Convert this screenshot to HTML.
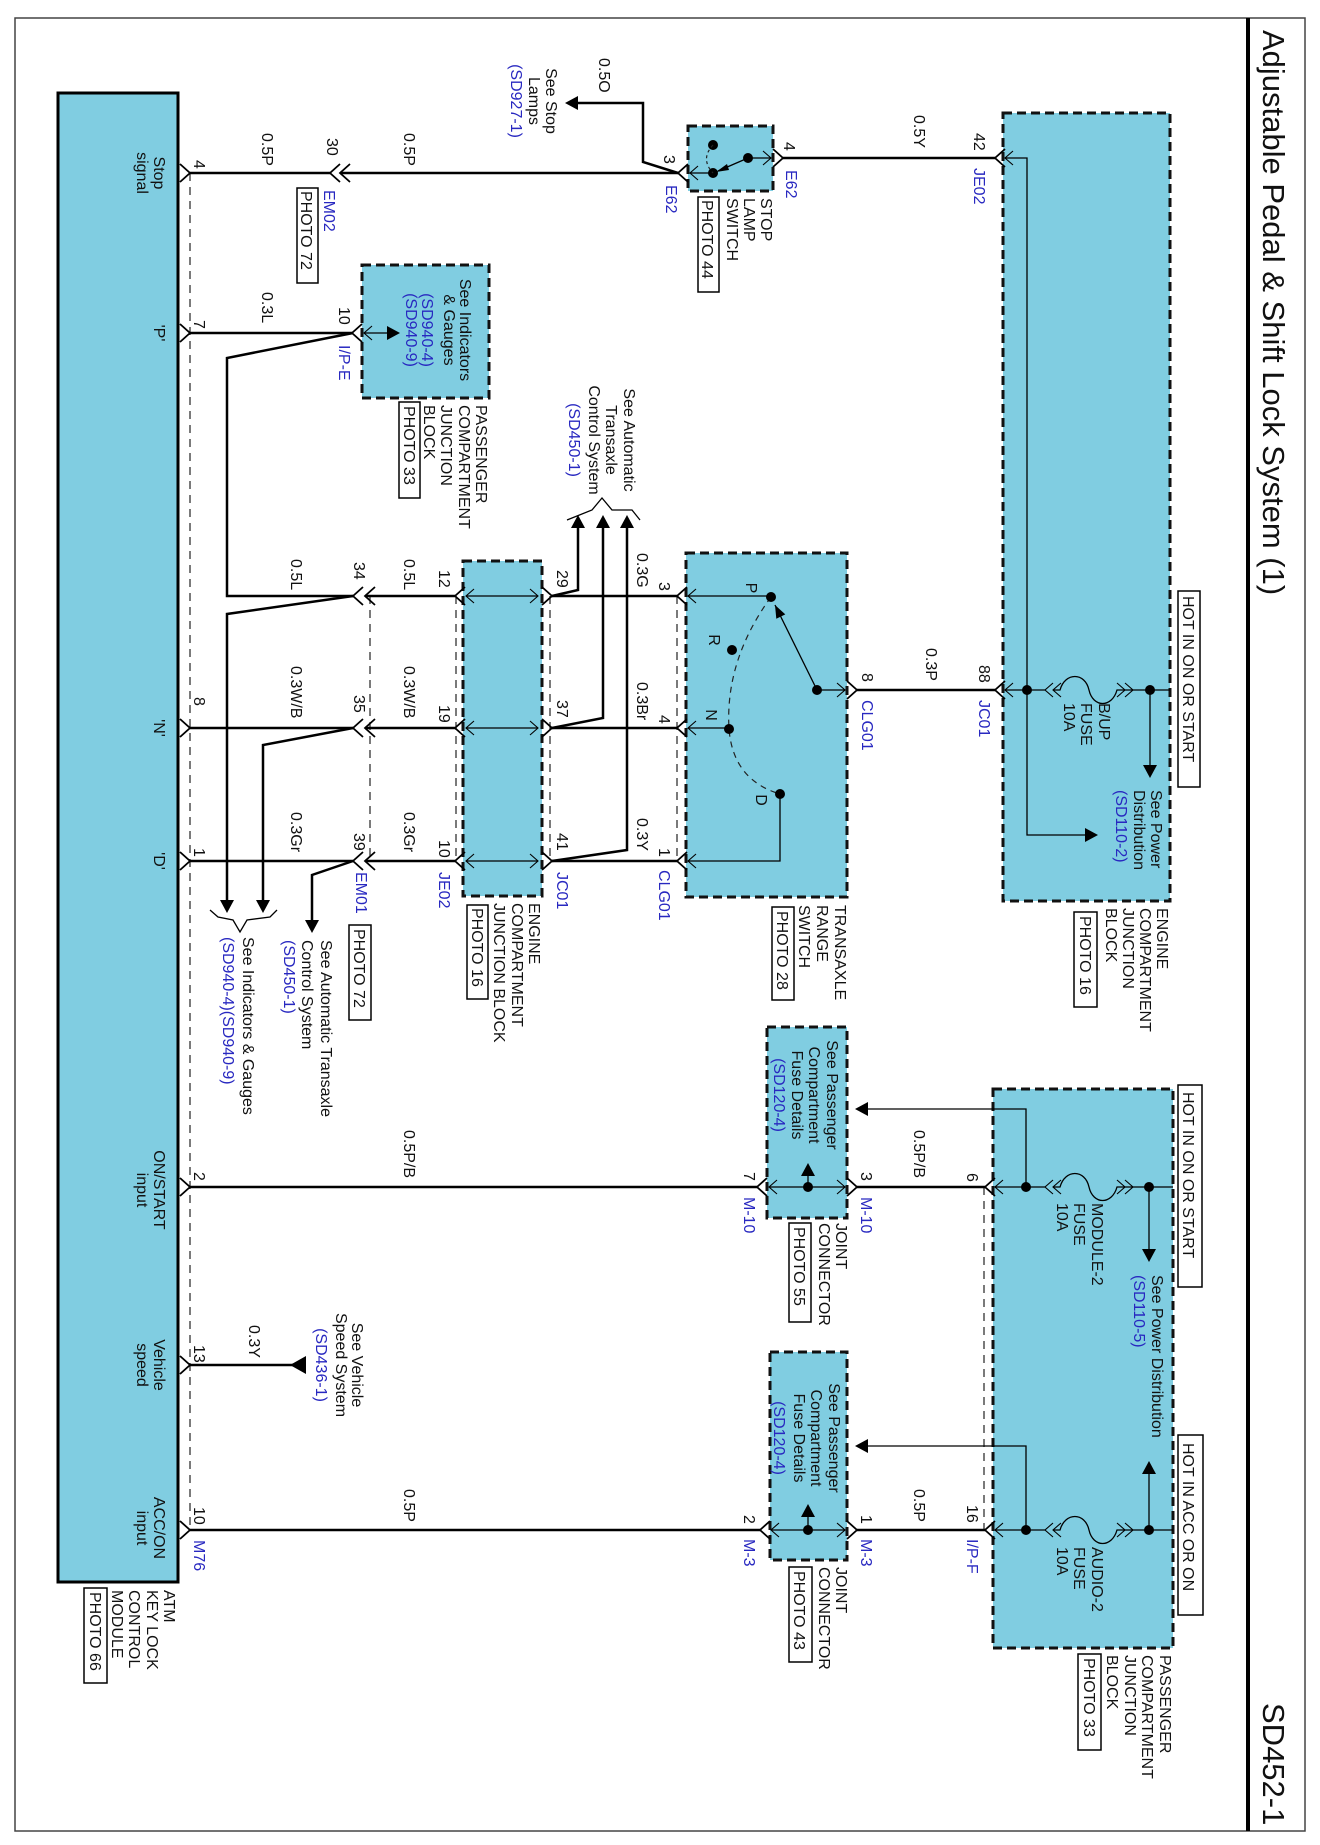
<!DOCTYPE html>
<html><head><meta charset="utf-8"><style>
html,body{margin:0;padding:0;background:#fff;}
svg{display:block;}
.t{font-family:"Liberation Sans",Arial,sans-serif;font-size:16px;fill:#111;}
.b{fill:#2828c0;}
.m{text-anchor:middle;}
.w{stroke:#000;stroke-width:2.5;fill:none;}
.i{stroke:#000;stroke-width:1.3;fill:none;}
.bx{fill:#80cde1;stroke:#111;stroke-width:3;stroke-dasharray:9 5;}
.d{stroke:#222;stroke-width:1.2;stroke-dasharray:8 6;fill:none;}
.pb{fill:#fff;stroke:#000;stroke-width:1.5;}
</style></head><body>
<svg width="1320" height="1845" viewBox="0 0 1320 1845" xmlns="http://www.w3.org/2000/svg">
<defs>
<polyline id="cl" points="10,-9 0,0 10,9" fill="none" stroke="#000" stroke-width="1.8"/>
<polyline id="cr" points="-10,-9 0,0 -10,9" fill="none" stroke="#000" stroke-width="1.8"/>
<polyline id="cls" points="8,-7 0,0 8,7" fill="none" stroke="#000" stroke-width="1.1"/>
<polyline id="crs" points="-8,-7 0,0 -8,7" fill="none" stroke="#000" stroke-width="1.1"/>
<polygon id="al" points="0,0 13,-7 13,7" fill="#000"/>
<polygon id="ar" points="0,0 -13,-7 -13,7" fill="#000"/>
<polygon id="au" points="0,0 -7,13 7,13" fill="#000"/>
<polygon id="ad" points="0,0 -7,-13 7,-13" fill="#000"/>
<circle id="dt" r="5" fill="#000"/>
</defs>
<rect x="0" y="0" width="1320" height="1845" fill="#fff"/>
<!-- frame -->
<rect x="15" y="18" width="1290" height="1813" fill="none" stroke="#444" stroke-width="1.5"/>
<line x1="1248" y1="18" x2="1248" y2="1831" stroke="#000" stroke-width="4"/>

<!-- boxes -->
<rect x="58" y="93" width="120" height="1489" fill="#80cde1" stroke="#000" stroke-width="3"/>
<rect class="bx" x="688" y="126" width="85" height="65"/>
<rect class="bx" x="362" y="265" width="127" height="133"/>
<rect class="bx" x="463" y="561" width="79" height="335"/>
<rect class="bx" x="686" y="553" width="161" height="344"/>
<rect class="bx" x="1003" y="113" width="167" height="788"/>
<rect class="bx" x="993" y="1089" width="180" height="559"/>
<rect class="bx" x="767" y="1027" width="80" height="191"/>
<rect class="bx" x="770" y="1352" width="77" height="208"/>

<!-- dashed connector lines -->
<line class="d" x1="190" y1="173" x2="190" y2="1530"/>
<line class="d" x1="370" y1="596" x2="370" y2="861"/>
<line class="d" x1="456" y1="596" x2="456" y2="861"/>
<line class="d" x1="550" y1="596" x2="550" y2="861"/>
<line class="d" x1="677" y1="596" x2="677" y2="861"/>
<line class="d" x1="984" y1="1187" x2="984" y2="1530"/>

<!-- ATM pins -->
<use href="#cr" x="190" y="173"/><use href="#cr" x="190" y="333"/><use href="#cr" x="190" y="728"/>
<use href="#cr" x="190" y="861"/><use href="#cr" x="190" y="1187"/><use href="#cr" x="190" y="1365"/><use href="#cr" x="190" y="1530"/>

<!-- stop row -->
<polyline class="w" points="190,173 330,173"/>
<use href="#cl" x="330" y="173"/><use href="#cl" x="340" y="173"/>
<polyline class="w" points="340,173 678,173"/>
<polyline class="w" points="678,173 643,162 643,103 576,103"/>
<use href="#al" x="565" y="103"/>
<use href="#cl" x="678" y="173"/><use href="#cls" x="690" y="173"/>
<line class="i" x1="690" y1="173" x2="713" y2="173"/>
<use href="#dt" x="713" y="173"/><use href="#dt" x="713" y="145"/><use href="#dt" x="748" y="158"/>
<path d="M713,145 Q700,159 713,173" class="d" style="stroke-dasharray:3 3"/>
<line class="i" x1="748" y1="158" x2="718" y2="171"/>
<polygon points="716,172 727,164 729,170" fill="#000"/>
<line class="i" x1="748" y1="158" x2="771" y2="158"/>
<use href="#crs" x="771" y="158"/><use href="#cr" x="783" y="158"/>
<polyline class="w" points="783,158 995,158"/>
<use href="#cl" x="995" y="158"/><use href="#cls" x="1005" y="158"/>
<polyline class="i" points="1005,158 1027,158 1027,835 1086,835"/>
<use href="#ar" x="1098" y="835"/>

<!-- P row -->
<polyline class="w" points="190,333 352,333"/>
<use href="#cl" x="352" y="333"/><use href="#cls" x="364" y="333"/>
<line class="i" x1="364" y1="333" x2="390" y2="333"/>
<use href="#ar" x="400" y="333"/>
<polyline class="w" points="353,333 227,358 227,596 353,596"/>
<polyline class="w" points="353,596 227,614 227,902"/>
<use href="#ad" x="227" y="913"/>

<!-- rows 596 / 728 / 861 -->
<g>
<use href="#cl" x="353" y="596"/><use href="#cl" x="365" y="596"/>
<use href="#cl" x="353" y="728"/><use href="#cl" x="365" y="728"/>
<use href="#cl" x="353" y="861"/><use href="#cl" x="365" y="861"/>
<polyline class="w" points="190,728 353,728"/>
<polyline class="w" points="190,861 353,861"/>
<polyline class="w" points="365,596 455,596"/>
<polyline class="w" points="365,728 455,728"/>
<polyline class="w" points="365,861 455,861"/>
<use href="#cl" x="455" y="596"/><use href="#cls" x="466" y="596"/><line class="i" x1="466" y1="596" x2="538" y2="596"/><use href="#crs" x="538" y="596"/><use href="#cr" x="552" y="596"/>
<use href="#cl" x="455" y="728"/><use href="#cls" x="466" y="728"/><line class="i" x1="466" y1="728" x2="538" y2="728"/><use href="#crs" x="538" y="728"/><use href="#cr" x="552" y="728"/>
<use href="#cl" x="455" y="861"/><use href="#cls" x="466" y="861"/><line class="i" x1="466" y1="861" x2="538" y2="861"/><use href="#crs" x="538" y="861"/><use href="#cr" x="552" y="861"/>
<polyline class="w" points="552,596 677,596"/>
<polyline class="w" points="552,728 677,728"/>
<polyline class="w" points="552,861 677,861"/>
<polyline class="w" points="552,596 578,590 578,528"/>
<polyline class="w" points="552,728 603,718 603,528"/>
<polyline class="w" points="552,861 627,850 627,528"/>
<use href="#au" x="578" y="515"/><use href="#au" x="603" y="515"/><use href="#au" x="627" y="515"/>
<polyline class="i" points="567,520 592,510 602,498 612,510 632,510 640,520"/>
<polyline class="w" points="353,728 263,745 263,902"/>
<use href="#ad" x="263" y="913"/>
<polyline class="w" points="353,861 312,875 312,922"/>
<use href="#ad" x="312" y="933"/>
<polyline class="i" points="210,910 218,917 233,920 240,932 247,920 270,917 277,910"/>
<use href="#cl" x="677" y="596"/><use href="#cls" x="688" y="596"/>
<use href="#cl" x="677" y="728"/><use href="#cls" x="688" y="728"/>
<use href="#cl" x="677" y="861"/><use href="#cls" x="688" y="861"/>
</g>

<!-- transaxle internals -->
<line class="i" x1="688" y1="596" x2="771" y2="596"/>
<line class="i" x1="688" y1="728" x2="729" y2="728"/>
<polyline class="i" points="688,861 780,861 780,794"/>
<path d="M771,597 Q725,660 729,729 Q733,780 780,794" class="d" style="stroke-dasharray:6 5"/>
<use href="#dt" x="771" y="597"/><use href="#dt" x="732" y="650"/><use href="#dt" x="729" y="729"/><use href="#dt" x="780" y="794"/><use href="#dt" x="817" y="690"/>
<line class="i" x1="817" y1="690" x2="775" y2="605"/>
<polygon points="775,605 785.3,614.4 776.3,618.8" fill="#000"/>
<line class="i" x1="817" y1="690" x2="845" y2="690"/>
<use href="#crs" x="845" y="690"/><use href="#cr" x="857" y="690"/>
<polyline class="w" points="857,690 995,690"/>
<use href="#cl" x="995" y="690"/><use href="#cls" x="1005" y="690"/>

<!-- engine box fuse row -->
<line class="i" x1="1005" y1="690" x2="1045" y2="690"/>
<use href="#cls" x="1045" y="690"/><use href="#cls" x="1053" y="690"/>
<path class="i" d="M1053,690 L1060,690 C1065,672 1085,672 1089,690 C1093,708 1112,708 1117,690 L1133,690"/>
<use href="#crs" x="1125" y="690"/><use href="#crs" x="1133" y="690"/>
<line class="i" x1="1133" y1="690" x2="1170" y2="690"/>
<use href="#dt" x="1027" y="690"/><use href="#dt" x="1150" y="690"/>
<line class="i" x1="1150" y1="690" x2="1150" y2="766"/>
<use href="#ad" x="1150" y="778"/>

<!-- ON/START row 1187 -->
<polyline class="w" points="190,1187 757,1187"/>
<use href="#cl" x="757" y="1187"/><use href="#cls" x="769" y="1187"/>
<line class="i" x1="769" y1="1187" x2="845" y2="1187"/>
<use href="#crs" x="845" y="1187"/><use href="#cr" x="857" y="1187"/>
<use href="#dt" x="808" y="1187"/><line class="i" x1="808" y1="1187" x2="808" y2="1175"/><use href="#au" x="808" y="1163"/>
<polyline class="w" points="857,1187 985,1187"/>
<use href="#cl" x="985" y="1187"/><use href="#cls" x="995" y="1187"/>
<line class="i" x1="995" y1="1187" x2="1045" y2="1187"/>
<use href="#cls" x="1045" y="1187"/><use href="#cls" x="1053" y="1187"/>
<path class="i" d="M1053,1187 L1060,1187 C1065,1169 1085,1169 1089,1187 C1093,1205 1112,1205 1117,1187 L1133,1187"/>
<use href="#crs" x="1125" y="1187"/><use href="#crs" x="1133" y="1187"/>
<line class="i" x1="1133" y1="1187" x2="1173" y2="1187"/>
<use href="#dt" x="1026" y="1187"/><use href="#dt" x="1149" y="1187"/>
<polyline class="i" points="1026,1187 1026,1109 866,1109"/>
<use href="#al" x="855" y="1109"/>
<line class="i" x1="1149" y1="1187" x2="1149" y2="1250"/>
<use href="#ad" x="1149" y="1262"/>

<!-- vehicle speed -->
<polyline class="w" points="190,1365 300,1365"/>
<polygon points="290,1365 306,1356 306,1374" fill="#000"/>

<!-- ACC/ON row 1530 -->
<polyline class="w" points="190,1530 760,1530"/>
<use href="#cl" x="760" y="1530"/><use href="#cls" x="771" y="1530"/>
<line class="i" x1="771" y1="1530" x2="845" y2="1530"/>
<use href="#crs" x="845" y="1530"/><use href="#cr" x="857" y="1530"/>
<use href="#dt" x="808" y="1530"/><line class="i" x1="808" y1="1530" x2="808" y2="1516"/><use href="#au" x="808" y="1504"/>
<polyline class="w" points="857,1530 985,1530"/>
<use href="#cl" x="985" y="1530"/><use href="#cls" x="995" y="1530"/>
<line class="i" x1="995" y1="1530" x2="1045" y2="1530"/>
<use href="#cls" x="1045" y="1530"/><use href="#cls" x="1053" y="1530"/>
<path class="i" d="M1053,1530 L1060,1530 C1065,1512 1085,1512 1089,1530 C1093,1548 1112,1548 1117,1530 L1133,1530"/>
<use href="#crs" x="1125" y="1530"/><use href="#crs" x="1133" y="1530"/>
<line class="i" x1="1133" y1="1530" x2="1173" y2="1530"/>
<use href="#dt" x="1026" y="1530"/><use href="#dt" x="1149" y="1530"/>
<polyline class="i" points="1026,1530 1026,1446 866,1446"/>
<use href="#al" x="855" y="1446"/>
<line class="i" x1="1149" y1="1530" x2="1149" y2="1474"/>
<use href="#au" x="1149" y="1461"/>

<!-- photo boxes -->
<rect class="pb" x="698" y="197" width="21" height="95"/>
<rect class="pb" x="297" y="188" width="21" height="95"/>
<rect class="pb" x="399" y="402" width="21" height="96"/>
<rect class="pb" x="349" y="925" width="22" height="95"/>
<rect class="pb" x="467" y="905" width="21" height="94"/>
<rect class="pb" x="772" y="907" width="22" height="93"/>
<rect class="pb" x="1178" y="591" width="22" height="196"/>
<rect class="pb" x="1074" y="912" width="23" height="95"/>
<rect class="pb" x="1178" y="1085" width="24" height="202"/>
<rect class="pb" x="789" y="1223" width="22" height="99"/>
<rect class="pb" x="84" y="1588" width="23" height="95"/>
<rect class="pb" x="789" y="1567" width="23" height="95"/>
<rect class="pb" x="1178" y="1435" width="25" height="180"/>
<rect class="pb" x="1078" y="1654" width="23" height="96"/>

<!-- TEXT (rotated frame: u=screen y, v=1320-screen x) -->
<g transform="translate(1320,0) rotate(90)">
<text class="t" x="30" y="57" style="font-size:31px">Adjustable Pedal &amp; Shift Lock System (1)</text>
<text class="t" x="1703" y="57" style="font-size:31px">SD452-1</text>

<text class="t" x="58" y="721">0.5O</text>
<text class="t m" x="101" y="774">See Stop</text>
<text class="t m" x="101" y="791">Lamps</text>
<text class="t m b" x="101" y="809">(SD927-1)</text>
<text class="t" x="155" y="656">3</text>
<text class="t" x="142" y="536">4</text>
<text class="t b" x="170" y="534">E62</text>
<text class="t b" x="185" y="654">E62</text>
<text class="t" x="198" y="559">STOP</text>
<text class="t" x="198" y="576">LAMP</text>
<text class="t" x="198" y="593">SWITCH</text>
<text class="t" x="200" y="618">PHOTO 44</text>

<text class="t" x="160" y="1126">4</text>
<text class="t" x="133" y="1058">0.5P</text>
<text class="t" x="138" y="993">30</text>
<text class="t" x="133" y="916">0.5P</text>
<text class="t b" x="190" y="996">EM02</text>
<text class="t" x="191" y="1019">PHOTO 72</text>
<text class="t m" x="173" y="1166">Stop</text>
<text class="t m" x="173" y="1183">signal</text>
<text class="t m" x="333" y="1166">'P'</text>
<text class="t" x="320" y="1126">7</text>
<text class="t" x="292" y="1058">0.3L</text>
<text class="t" x="307" y="981">10</text>
<text class="t b" x="345" y="981">I/P-E</text>
<text class="t m" x="330" y="860">See Indicators</text>
<text class="t m" x="330" y="876">&amp; Gauges</text>
<text class="t m b" x="330" y="898">(SD940-4)</text>
<text class="t m b" x="330" y="914">(SD940-9)</text>
<text class="t" x="405" y="844">PASSENGER</text>
<text class="t" x="405" y="861">COMPARTMENT</text>
<text class="t" x="405" y="879">JUNCTION</text>
<text class="t" x="405" y="896">BLOCK</text>
<text class="t" x="406" y="916">PHOTO 33</text>
<text class="t m" x="440" y="696">See Automatic</text>
<text class="t m" x="440" y="714">Transaxle</text>
<text class="t m" x="440" y="731">Control System</text>
<text class="t m b" x="440" y="751">(SD450-1)</text>

<text class="t" x="559" y="1029">0.5L</text>
<text class="t" x="562" y="966">34</text>
<text class="t" x="559" y="916">0.5L</text>
<text class="t" x="570" y="881">12</text>
<text class="t" x="570" y="763">29</text>
<text class="t" x="666" y="1029">0.3W/B</text>
<text class="t" x="695" y="966">35</text>
<text class="t" x="666" y="916">0.3W/B</text>
<text class="t" x="705" y="881">19</text>
<text class="t" x="700" y="763">37</text>
<text class="t" x="697" y="1126">8</text>
<text class="t m" x="728" y="1166">'N'</text>
<text class="t" x="812" y="1029">0.3Gr</text>
<text class="t" x="833" y="966">39</text>
<text class="t" x="812" y="916">0.3Gr</text>
<text class="t" x="840" y="881">10</text>
<text class="t" x="833" y="763">41</text>
<text class="t" x="848" y="1126">1</text>
<text class="t m" x="861" y="1166">'D'</text>
<text class="t b" x="872" y="964">EM01</text>
<text class="t b" x="872" y="881">JE02</text>
<text class="t b" x="872" y="763">JC01</text>
<text class="t" x="929" y="966">PHOTO 72</text>
<text class="t" x="903" y="791">ENGINE</text>
<text class="t" x="903" y="808">COMPARTMENT</text>
<text class="t" x="903" y="826">JUNCTION BLOCK</text>
<text class="t" x="908" y="848">PHOTO 16</text>
<text class="t" x="940" y="999">See Automatic Transaxle</text>
<text class="t" x="940" y="1018">Control System</text>
<text class="t b" x="940" y="1036">(SD450-1)</text>
<text class="t" x="937" y="1077">See Indicators &amp; Gauges</text>
<text class="t b" x="937" y="1097">(SD940-4)(SD940-9)</text>

<text class="t" x="553" y="683">0.3G</text>
<text class="t" x="582" y="661">3</text>
<text class="t" x="682" y="683">0.3Br</text>
<text class="t" x="715" y="661">4</text>
<text class="t" x="818" y="683">0.3Y</text>
<text class="t" x="848" y="661">1</text>
<text class="t b" x="870" y="661">CLG01</text>
<text class="t b" x="700" y="458">CLG01</text>
<text class="t" x="673" y="458">8</text>
<text class="t" x="648" y="394">0.3P</text>
<text class="t" x="665" y="341">88</text>
<text class="t b" x="700" y="341">JC01</text>
<text class="t m" x="588" y="574">P</text>
<text class="t m" x="640" y="611">R</text>
<text class="t m" x="715" y="614">N</text>
<text class="t m" x="800" y="564">D</text>
<text class="t" x="905" y="485">TRANSAXLE</text>
<text class="t" x="905" y="503">RANGE</text>
<text class="t" x="905" y="521">SWITCH</text>
<text class="t" x="911" y="543">PHOTO 28</text>

<text class="t" x="115" y="406">0.5Y</text>
<text class="t" x="133" y="346">42</text>
<text class="t b" x="168" y="346">JE02</text>
<text class="t" x="703" y="221">B/UP</text>
<text class="t" x="703" y="239">FUSE</text>
<text class="t" x="703" y="256">10A</text>
<text class="t" x="790" y="169">See Power</text>
<text class="t" x="790" y="186">Distribution</text>
<text class="t b" x="790" y="204">(SD110-2)</text>
<text class="t" x="596" y="137">HOT IN ON OR START</text>
<text class="t" x="908" y="163">ENGINE</text>
<text class="t" x="908" y="180">COMPARTMENT</text>
<text class="t" x="908" y="197">JUNCTION</text>
<text class="t" x="908" y="214">BLOCK</text>
<text class="t" x="916" y="240">PHOTO 16</text>

<text class="t" x="1173" y="353">6</text>
<text class="t" x="1130" y="406">0.5P/B</text>
<text class="t" x="1092" y="137">HOT IN ON OR START</text>
<text class="t" x="1203" y="228">MODULE-2</text>
<text class="t" x="1203" y="246">FUSE</text>
<text class="t" x="1203" y="263">10A</text>
<text class="t" x="1275" y="168">See Power Distribution</text>
<text class="t b" x="1275" y="186">(SD110-5)</text>
<text class="t" x="1172" y="459">3</text>
<text class="t b" x="1197" y="459">M-10</text>
<text class="t" x="1172" y="576">7</text>
<text class="t b" x="1197" y="576">M-10</text>
<text class="t m" x="1095" y="493">See Passenger</text>
<text class="t m" x="1095" y="511">Compartment</text>
<text class="t m" x="1095" y="528">Fuse Details</text>
<text class="t m b" x="1095" y="546">(SD120-4)</text>
<text class="t" x="1223" y="484">JOINT</text>
<text class="t" x="1223" y="501">CONNECTOR</text>
<text class="t" x="1227" y="526">PHOTO 55</text>
<text class="t m" x="1190" y="1166">ON/START</text>
<text class="t m" x="1190" y="1183">input</text>
<text class="t" x="1172" y="1126">2</text>
<text class="t" x="1130" y="916">0.5P/B</text>

<text class="t m" x="1365" y="1166">Vehicle</text>
<text class="t m" x="1365" y="1183">speed</text>
<text class="t" x="1345" y="1126">13</text>
<text class="t" x="1325" y="1071">0.3Y</text>
<text class="t m" x="1365" y="968">See Vehicle</text>
<text class="t m" x="1365" y="984">Speed System</text>
<text class="t m b" x="1365" y="1004">(SD436-1)</text>

<text class="t m" x="1528" y="1166">ACC/ON</text>
<text class="t m" x="1528" y="1183">input</text>
<text class="t" x="1507" y="1126">10</text>
<text class="t b" x="1540" y="1126">M76</text>
<text class="t" x="1489" y="916">0.5P</text>
<text class="t" x="1590" y="1156">ATM</text>
<text class="t" x="1590" y="1173">KEY LOCK</text>
<text class="t" x="1590" y="1191">CONTROL</text>
<text class="t" x="1590" y="1208">MODULE</text>
<text class="t" x="1592" y="1230">PHOTO 66</text>

<text class="t" x="1515" y="459">1</text>
<text class="t b" x="1539" y="459">M-3</text>
<text class="t" x="1515" y="576">2</text>
<text class="t b" x="1539" y="576">M-3</text>
<text class="t m" x="1438" y="491">See Passenger</text>
<text class="t m" x="1438" y="509">Compartment</text>
<text class="t m" x="1438" y="526">Fuse Details</text>
<text class="t m b" x="1438" y="546">(SD120-4)</text>
<text class="t" x="1567" y="484">JOINT</text>
<text class="t" x="1567" y="501">CONNECTOR</text>
<text class="t" x="1571" y="526">PHOTO 43</text>
<text class="t" x="1489" y="406">0.5P</text>
<text class="t" x="1505" y="353">16</text>
<text class="t b" x="1539" y="353">I/P-F</text>
<text class="t" x="1547" y="228">AUDIO-2</text>
<text class="t" x="1547" y="246">FUSE</text>
<text class="t" x="1547" y="263">10A</text>
<text class="t" x="1443" y="137">HOT IN ACC OR ON</text>
<text class="t" x="1655" y="160">PASSENGER</text>
<text class="t" x="1655" y="178">COMPARTMENT</text>
<text class="t" x="1655" y="195">JUNCTION</text>
<text class="t" x="1655" y="213">BLOCK</text>
<text class="t" x="1658" y="236">PHOTO 33</text>
</g>
</svg>
</body></html>
